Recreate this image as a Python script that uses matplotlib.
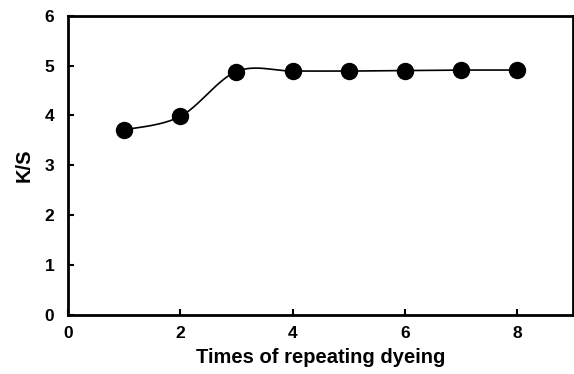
import numpy as np
import matplotlib
matplotlib.use("Agg")
import matplotlib.pyplot as plt

plt.rcParams['font.family'] = ['Liberation Sans', 'DejaVu Sans']
plt.rcParams['font.weight'] = 'bold'

# K/S values after each repeated dyeing
times = [1, 2, 3, 4, 5, 6, 7, 8]
ks = [3.71, 3.98, 4.88, 4.89, 4.89, 4.90, 4.91, 4.91]


def smooth_line(x, y, n=40):
    # Catmull-Rom segments between the points (like a spreadsheet "smoothed line")
    x = np.asarray(x, float)
    y = np.asarray(y, float)
    px = np.concatenate([[x[0]], x, [x[-1]]])
    py = np.concatenate([[y[0]], y, [y[-1]]])
    t = np.linspace(0, 1, n)
    xs, ys = [], []
    for i in range(1, len(px) - 2):
        for p, out in ((px, xs), (py, ys)):
            p0, p1, p2, p3 = p[i - 1], p[i], p[i + 1], p[i + 2]
            out.append(0.5 * (2 * p1 + (-p0 + p2) * t
                              + (2 * p0 - 5 * p1 + 4 * p2 - p3) * t ** 2
                              + (-p0 + 3 * p1 - 3 * p2 + p3) * t ** 3))
    return np.concatenate(xs), np.concatenate(ys)


fig = plt.figure(figsize=(5.74, 3.74), dpi=100)
ax = fig.add_axes([0.1185, 0.158, 0.88, 0.80])

xs, ys = smooth_line(times, ks)
ax.plot(xs, ys, color='black', lw=1.2)
ax.plot(times, ks, 'o', color='black', markersize=11.5)

ax.set_xlim(0, 9)
ax.set_ylim(0, 6)
ax.set_xticks([0, 2, 4, 6, 8])
ax.set_yticks([0, 1, 2, 3, 4, 5, 6])
ax.tick_params(direction='in', length=4, width=1.5, labelsize=12.5)
ax.tick_params(axis='y', pad=10)
ax.tick_params(axis='x', pad=8)
for s in ax.spines.values():
    s.set_linewidth(2)

ax.set_xlabel('Times of repeating dyeing', fontsize=14.5, fontweight='bold', labelpad=5)
ax.set_ylabel('K/S', fontsize=14.5, fontweight='bold', labelpad=8)

fig.savefig('out.png', dpi=100)
